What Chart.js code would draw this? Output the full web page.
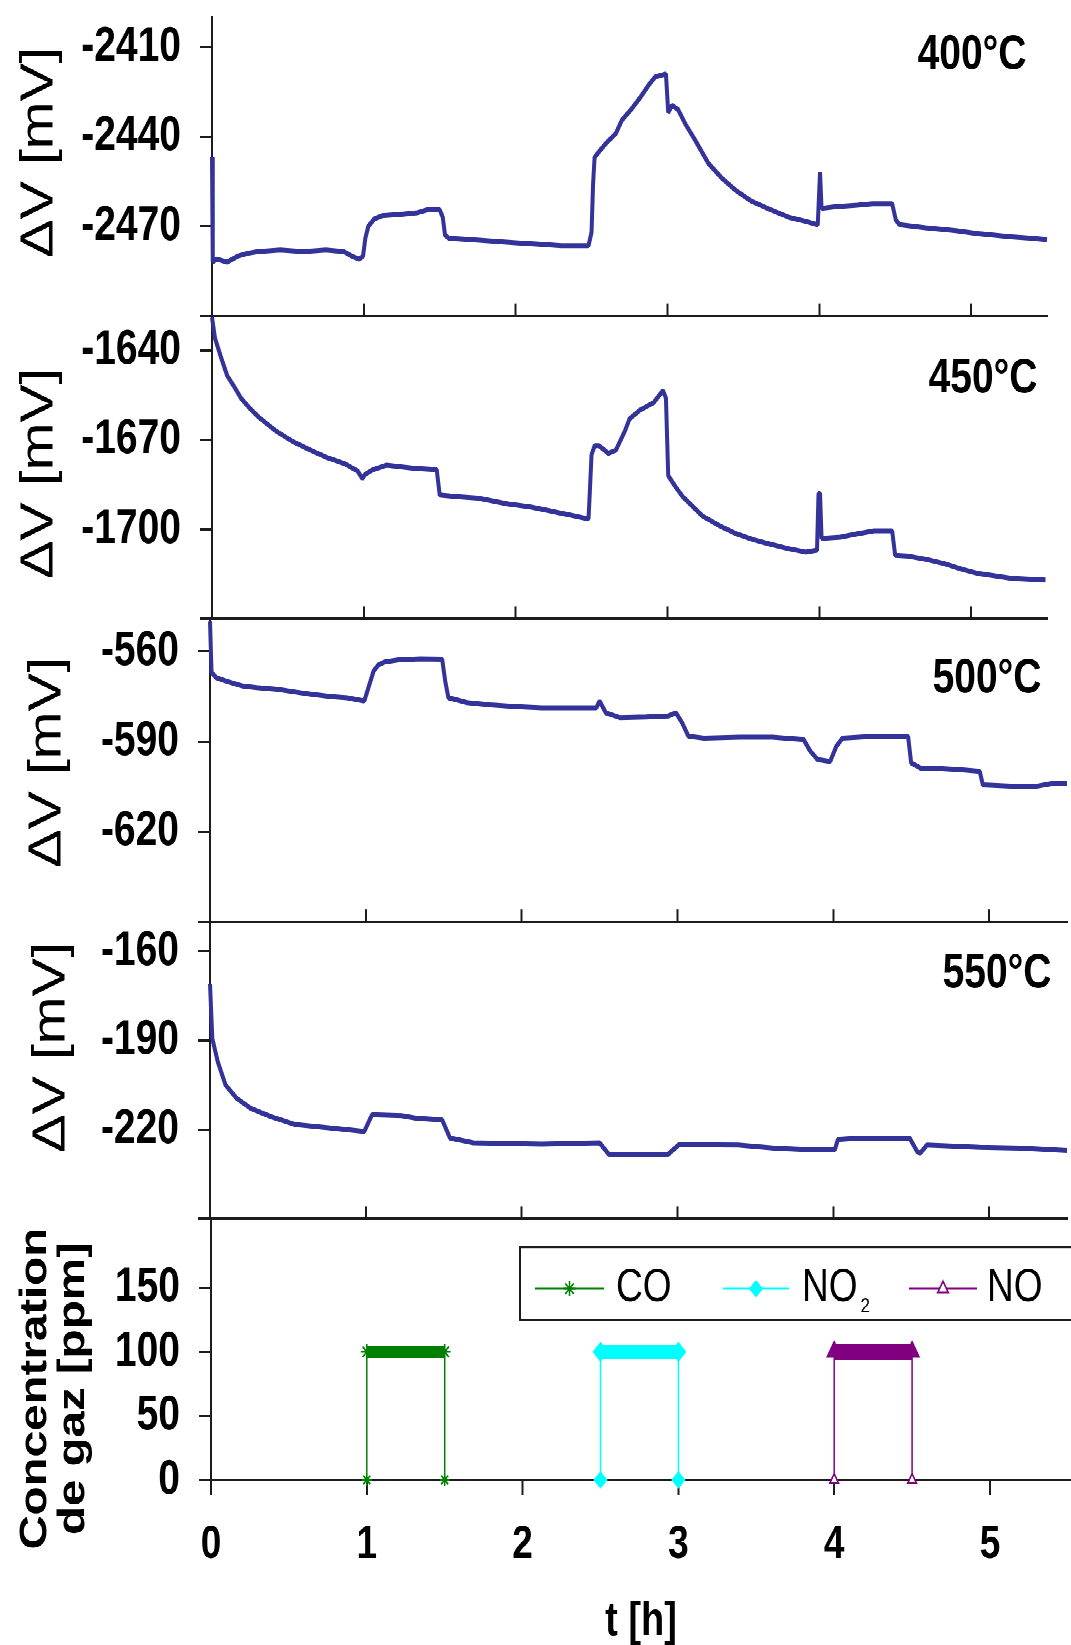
<!DOCTYPE html>
<html>
<head>
<meta charset="utf-8">
<title>Réponse du capteur</title>
<script src="https://cdn.jsdelivr.net/npm/chart.js@4.4.1/dist/chart.umd.min.js"></script>
<style>
  html, body { margin: 0; padding: 0; background: #fff; overflow: hidden; }
  /* the original figure is stretched vertically, so is this page */
  #page { position: absolute; left: 0; top: 0; width: 1071px; height: 1316px;
          transform: scaleY(1.25); transform-origin: 0 0; }
  #page canvas { position: absolute; left: 0; }
</style>
</head>
<body>
<div id="page">
  <canvas id="c400"></canvas>
  <canvas id="c450"></canvas>
  <canvas id="c500"></canvas>
  <canvas id="c550"></canvas>
  <canvas id="cgas"></canvas>
</div>
<script>
// ---- data ----
const xTicks = [0, 1, 2, 3, 4, 5];

// 400°C
const t400 = [0, 0.005, 0.03, 0.10, 0.17, 0.24, 0.30, 0.45, 0.60, 0.75, 0.87, 0.92, 0.97, 0.995,
  1.01, 1.03, 1.07, 1.12, 1.25, 1.35, 1.42, 1.50, 1.52, 1.535, 1.56, 1.70, 1.85, 2.0, 2.15, 2.30, 2.48,
  2.50, 2.51, 2.52, 2.55, 2.60, 2.66, 2.70, 2.76, 2.82, 2.88, 2.92, 2.99, 3.005, 3.03, 3.07, 3.12,
  3.18, 3.27, 3.36, 3.45, 3.55, 3.68, 3.80, 3.92, 3.99, 4.005, 4.015, 4.10, 4.25, 4.35, 4.48, 4.505,
  4.53, 4.70, 4.90, 5.05, 5.25, 5.40, 5.50];
const v400 = [-2447, -2482, -2481, -2482, -2480, -2479, -2478.5, -2478, -2478.5, -2478, -2478.5, -2480, -2481, -2480,
  -2474, -2470, -2467.5, -2466.5, -2466, -2465.5, -2464.5, -2464.5, -2467, -2473, -2474, -2474.5, -2475, -2475.5, -2476, -2476.5, -2476.5,
  -2472, -2456, -2447, -2445, -2442, -2439, -2434.5, -2431, -2427, -2422.5, -2420, -2419, -2432, -2429.5, -2431, -2436,
  -2441, -2449, -2454, -2458, -2461.5, -2464.5, -2467, -2468.5, -2469.5, -2452, -2464, -2463.5, -2463, -2462.5, -2462.5, -2468,
  -2469.5, -2470.5, -2471.5, -2472.5, -2473.5, -2474, -2474.5];
const ticks400 = [-2500, -2470, -2440, -2410];

// 450°C
const t450 = [0, 0.02, 0.057, 0.10, 0.15, 0.19, 0.25, 0.31, 0.42, 0.53, 0.65, 0.76, 0.875, 0.96, 0.99,
  1.01, 1.06, 1.15, 1.33, 1.48, 1.50, 1.60, 1.75, 1.85, 1.95, 2.10, 2.32, 2.48, 2.49, 2.50, 2.52, 2.55,
  2.61, 2.66, 2.72, 2.75, 2.82, 2.91, 2.97, 2.99, 3.005, 3.05, 3.10, 3.14, 3.23, 3.34, 3.45, 3.57, 3.68,
  3.80, 3.91, 3.985, 3.995, 4.005, 4.015, 4.14, 4.25, 4.36, 4.48, 4.50, 4.59, 4.70, 4.82, 4.95, 5.05, 5.27, 5.49];
const v450 = [-1629, -1636, -1642, -1648.5, -1652.5, -1656, -1659.5, -1662.5, -1667, -1670.5, -1673.5, -1676, -1678, -1680.5, -1683,
  -1681.5, -1680, -1678.5, -1679.5, -1680, -1688.5, -1689, -1689.5, -1690.5, -1691.5, -1692.5, -1694.8, -1696.5, -1686, -1675, -1672, -1672,
  -1674.5, -1673.5, -1667, -1663, -1660, -1657.5, -1653.5, -1656, -1682, -1685.5, -1689, -1691, -1695.5, -1698.7, -1701.4, -1703.5, -1705,
  -1706.5, -1707.6, -1707, -1688, -1688, -1703, -1702.6, -1701.5, -1700.5, -1700.5, -1708.7, -1709, -1710, -1711.4, -1713.5, -1714.8, -1716.4, -1717];
const ticks450 = [-1730, -1700, -1670, -1640];

// 500°C
const t500 = [0, 0.01, 0.04, 0.10, 0.21, 0.30, 0.43, 0.55, 0.66, 0.77, 0.88, 0.99,
  1.02, 1.05, 1.08, 1.12, 1.21, 1.35, 1.49, 1.51, 1.53, 1.65, 1.80, 1.95, 2.13, 2.30, 2.48,
  2.50, 2.54, 2.63, 2.80, 2.94, 2.99, 3.03, 3.07, 3.17, 3.40, 3.61, 3.81, 3.85, 3.90, 3.98,
  4.02, 4.06, 4.27, 4.48, 4.50, 4.56, 4.70, 4.83, 4.94, 4.96, 5.16, 5.30, 5.40, 5.50];
const v500 = [-550, -567, -568.7, -569.8, -571.5, -572, -572.6, -573.5, -574.3, -575, -575.4, -576.5,
  -571.5, -566.5, -564.5, -563.5, -562.8, -562.5, -562.6, -570, -575.4, -577, -577.8, -578.3, -578.7, -578.7, -578.7,
  -576.5, -580.4, -582, -581.8, -581.5, -580.4, -583.7, -588.2, -588.8, -588.5, -588.5, -589.3, -593, -596, -596.6,
  -591.5, -588.8, -588.2, -588.2, -597.1, -598.8, -599, -599.4, -599.9, -604.4, -604.9, -604.9, -604, -603.8];
const ticks500 = [-650, -620, -590, -560];

// 550°C
const t550 = [0, 0.015, 0.05, 0.10, 0.17, 0.26, 0.39, 0.55, 0.77, 0.99, 1.02, 1.04, 1.23, 1.32, 1.49,
  1.54, 1.69, 2.13, 2.50, 2.56, 2.94, 3.01, 3.39, 3.62, 3.83, 4.01, 4.03, 4.16, 4.49, 4.54, 4.56,
  4.60, 4.94, 5.20, 5.50];
const v550 = [-171, -189.4, -197.2, -205, -209.4, -212.8, -215.6, -218.3, -219.4, -220.6, -217.2, -215, -215.3, -216.1, -216.7,
  -222.8, -224.4, -224.8, -224.4, -228.3, -228.3, -225, -225.2, -226.2, -226.7, -226.7, -223.3, -222.8, -222.8, -227.5, -227.8,
  -225.2, -225.9, -226.2, -227];
const ticks550 = [-250, -220, -190, -160];

// gas pulses [ppm]
const gasLabels = ['CO', 'NO₂', 'NO'];
const coT = [1, 1, 1.5, 1.5];
const coV = [0, 100, 100, 0];
const no2T = [2.5, 2.5, 3, 3];
const no2V = [0, 100, 100, 0];
const noT = [4, 4, 4.5, 4.5];
const noV = [0, 100, 100, 0];
const gasTicks = [0, 50, 100, 150];

const tempLabels = ['400°C', '450°C', '500°C', '550°C'];
const yTitle = 'ΔV [mV]';
const concTitle = ['Concentration', 'de gaz [ppm]'];
const xTitle = 't [h]';

// ---- look ----
const FONT = "'Liberation Sans', Arial, sans-serif";
const BLUE = '#333399';
const AXIS = '#1c1c1c';
const GREEN = '#008000', CYAN = '#00ffff', PURPLE = '#800080';
const YW = 200;   // width kept for the y axis box

function pts(t, v) {
  return t.map((x, i) => ({ x: x, y: v[i] }));
}

// free text (titles, temperatures), drawn in canvas coordinates of the page
const textLayer = {
  id: 'textLayer',
  defaults: { items: [], top: 0 },
  afterDraw(chart, args, opts) {
    const ctx = chart.ctx;
    (opts.items || []).forEach(function (it) {
      ctx.save();
      ctx.font = (it.bold ? 'bold ' : '') + it.size + 'px ' + FONT;
      ctx.fillStyle = '#000';
      ctx.textAlign = 'center';
      ctx.textBaseline = 'alphabetic';
      ctx.translate(it.x, it.y - opts.top);
      if (it.rotate) ctx.rotate(-Math.PI / 2);
      ctx.fillText(it.text, 0, it.baseline !== undefined ? it.baseline : it.size * 0.358);
      ctx.restore();
    });
  }
};

function marker(ctx, style, x, y, r, color, fill) {
  ctx.save();
  ctx.strokeStyle = color;
  ctx.fillStyle = fill;
  ctx.lineWidth = 1.5;
  ctx.beginPath();
  if (style === 'star') {
    for (let k = 0; k < 4; k++) {
      const a = k * Math.PI / 4;
      ctx.moveTo(x - r * Math.cos(a), y - r * Math.sin(a));
      ctx.lineTo(x + r * Math.cos(a), y + r * Math.sin(a));
    }
    ctx.stroke();
  } else if (style === 'rectRot') {
    ctx.moveTo(x, y - r); ctx.lineTo(x + r, y); ctx.lineTo(x, y + r); ctx.lineTo(x - r, y);
    ctx.closePath(); ctx.fill(); ctx.stroke();
  } else {
    ctx.moveTo(x, y - r); ctx.lineTo(x + r * 0.87, y + r * 0.5); ctx.lineTo(x - r * 0.87, y + r * 0.5);
    ctx.closePath(); ctx.fill(); ctx.stroke();
  }
  ctx.restore();
}

// boxed legend with line + marker samples
const gasLegend = {
  id: 'gasLegend',
  defaults: { box: null },
  afterDatasetsDraw(chart, args, opts) {
    if (!opts.box) return;
    const ctx = chart.ctx;
    const top = opts.top;
    const b = opts.box;
    ctx.save();
    ctx.fillStyle = '#fff';
    ctx.fillRect(b[0], b[1] - top, b[2], b[3]);
    ctx.strokeStyle = AXIS;
    ctx.lineWidth = 2;
    ctx.strokeRect(b[0], b[1] - top, b[2], b[3]);
    chart.data.datasets.forEach(function (ds, i) {
      const it = opts.items[i];
      const ly = opts.lineY - top;
      ctx.strokeStyle = ds.borderColor;
      ctx.lineWidth = 1.5;
      ctx.beginPath();
      ctx.moveTo(it[0], ly);
      ctx.lineTo(it[1], ly);
      ctx.stroke();
      marker(ctx, ds.pointStyle, (it[0] + it[1]) / 2, ly, ds.legendR, ds.borderColor, ds.legendFill);
      ctx.fillStyle = '#000';
      ctx.font = '37px ' + FONT;
      ctx.textAlign = 'left';
      const parts = ds.label.split('₂');
      const by = opts.textY - top;
      ctx.fillText(parts[0], it[2], by);
      if (parts.length > 1) {
        const w = ctx.measureText(parts[0]).width;
        ctx.font = '17px ' + FONT;
        ctx.fillText('2', it[2] + w + 3, by + 9);
      }
    });
    ctx.restore();
  }
};

Chart.register(textLayer, gasLegend);

function makeChart(id, p) {
  const canvas = document.getElementById(id);
  canvas.width = 1071;
  canvas.height = p.band[1] - p.band[0];
  canvas.style.top = p.band[0] + 'px';
  const tickFont = { family: FONT, size: 39, weight: 'bold' };
  return new Chart(canvas, {
    type: 'line',
    data: { datasets: p.datasets },
    options: {
      responsive: false,
      animation: false,
      devicePixelRatio: 2,
      events: [],
      layout: {
        autoPadding: false,
        padding: {
          left: p.area[0] - YW,
          right: 1071 - p.area[2],
          top: p.area[1] - p.band[0],
          bottom: p.band[1] - p.area[3] - p.xh
        }
      },
      plugins: {
        legend: { display: false },
        tooltip: { enabled: false },
        textLayer: { top: p.band[0], items: p.texts },
        gasLegend: Object.assign({ top: p.band[0] }, p.legend || {})
      },
      scales: {
        x: {
          type: 'linear', min: 0, max: p.xMax,
          afterBuildTicks: function (s) { s.ticks = xTicks.map(v => ({ value: v })); },
          afterFit: function (s) { s.height = p.xh; s.paddingLeft = 0; s.paddingRight = 0; },
          border: { display: true, color: AXIS, width: 2 },
          grid: { drawOnChartArea: false, drawTicks: true, tickLength: p.xTickLen, color: AXIS, lineWidth: 2 },
          ticks: { display: !!p.xLabels, autoSkip: false, maxRotation: 0, color: '#000', padding: 18,
                   font: { family: FONT, size: 37, weight: 'bold' } }
        },
        y: {
          type: 'linear', min: p.yMin, max: p.yMax,
          afterBuildTicks: function (s) { s.ticks = p.yTicks.map(v => ({ value: v })); },
          afterFit: function (s) { s.width = YW; s.paddingTop = 0; s.paddingBottom = 0; },
          border: { display: true, color: AXIS, width: 2 },
          grid: { drawOnChartArea: false, drawTicks: true, tickLength: 12, color: AXIS, lineWidth: 2 },
          ticks: { autoSkip: false, color: '#000', padding: 19, font: tickFont,
                   callback: v => (p.hideMin && v === p.yMin) ? '' : String(v) }
        }
      }
    }
  });
}

function trace(t, v) {
  return [{ data: pts(t, v), borderColor: BLUE, borderWidth: 4, pointRadius: 0,
            borderJoinStyle: 'bevel', clip: 4 }];
}

function gasSet(label, t, v, color, style, radii, fills, band, legendR, legendFill) {
  return {
    label: label, data: pts(t, v), borderColor: color, backgroundColor: color,
    borderWidth: 1.5, pointStyle: style, pointRadius: radii, pointBorderColor: color,
    pointBackgroundColor: fills, pointBorderWidth: 1.5, clip: false,
    legendR: legendR, legendFill: legendFill,
    segment: {
      borderWidth: ctx => (ctx.p0.parsed.y > 0 && ctx.p0.parsed.y === ctx.p1.parsed.y) ? band : 1.5
    }
  };
}

const dV = s => ({ text: yTitle, size: 46, rotate: true, x: s[0], y: s[1] });
const temp = (txt, s) => ({ text: txt, size: 39, bold: true, x: s[0], y: s[1] });

makeChart('c400', {
  band: [0, 290], area: [212, 13.6, 1047, 252.8], xMax: 5.5, xh: 30, xTickLen: -10,
  yMin: -2500, yMax: -2400, yTicks: ticks400, hideMin: true,
  datasets: trace(t400, v400),
  texts: [dV([36, 122]), temp(tempLabels[0], [972, 41])]
});

makeChart('c450', {
  band: [240, 540], area: [212, 252.8, 1047, 495.2], xMax: 5.5, xh: 30, xTickLen: -10,
  yMin: -1730, yMax: -1628.5, yTicks: ticks450, hideMin: true,
  datasets: trace(t450, v450),
  texts: [dV([36, 379]), temp(tempLabels[1], [983, 300])]
});

makeChart('c500', {
  band: [480, 780], area: [210, 497.2, 1067, 737.6], xMax: 5.5, xh: 30, xTickLen: -10,
  yMin: -650, yMax: -550, yTicks: ticks500, hideMin: true,
  datasets: trace(t500, v500),
  texts: [dV([44, 610]), temp(tempLabels[2], [987, 540])]
});

makeChart('c550', {
  band: [720, 1020], area: [210, 737.2, 1067, 975.2], xMax: 5.5, xh: 30, xTickLen: -10,
  yMin: -250, yMax: -150, yTicks: ticks550, hideMin: true,
  datasets: trace(t550, v550),
  texts: [dV([48, 838]), temp(tempLabels[3], [997, 776])]
});

makeChart('cgas', {
  band: [960, 1316], area: [211, 976, 1071, 1184], xMax: 5.52, xh: 132, xTickLen: 12, xLabels: true,
  yMin: 0, yMax: 203, yTicks: gasTicks, hideMin: false,
  datasets: [
    gasSet(gasLabels[0], coT, coV, GREEN, 'star', [5, 6, 6, 5], GREEN, 10, 6, GREEN),
    gasSet(gasLabels[1], no2T, no2V, CYAN, 'rectRot', [6, 7, 7, 6], CYAN, 11, 6, CYAN),
    gasSet(gasLabels[2], noT, noV, PURPLE, 'triangle', [5, 8, 8, 5], ['#fff', PURPLE, PURPLE, '#fff'], 13, 6, '#fff')
  ],
  texts: [
    { text: concTitle[0], size: 38, bold: true, rotate: true, x: 46, y: 1111, baseline: 0 },
    { text: concTitle[1], size: 38, bold: true, rotate: true, x: 84, y: 1111, baseline: 0 },
    { text: xTitle, size: 38, bold: true, x: 641, y: 1308, baseline: 0 }
  ],
  legend: {
    box: [520, 997.6, 570, 58.4],
    lineY: 1031, textY: 1041,
    items: [[535, 604, 616], [723, 789, 802], [909, 977, 987]]
  }
});
</script>
</body>
</html>
